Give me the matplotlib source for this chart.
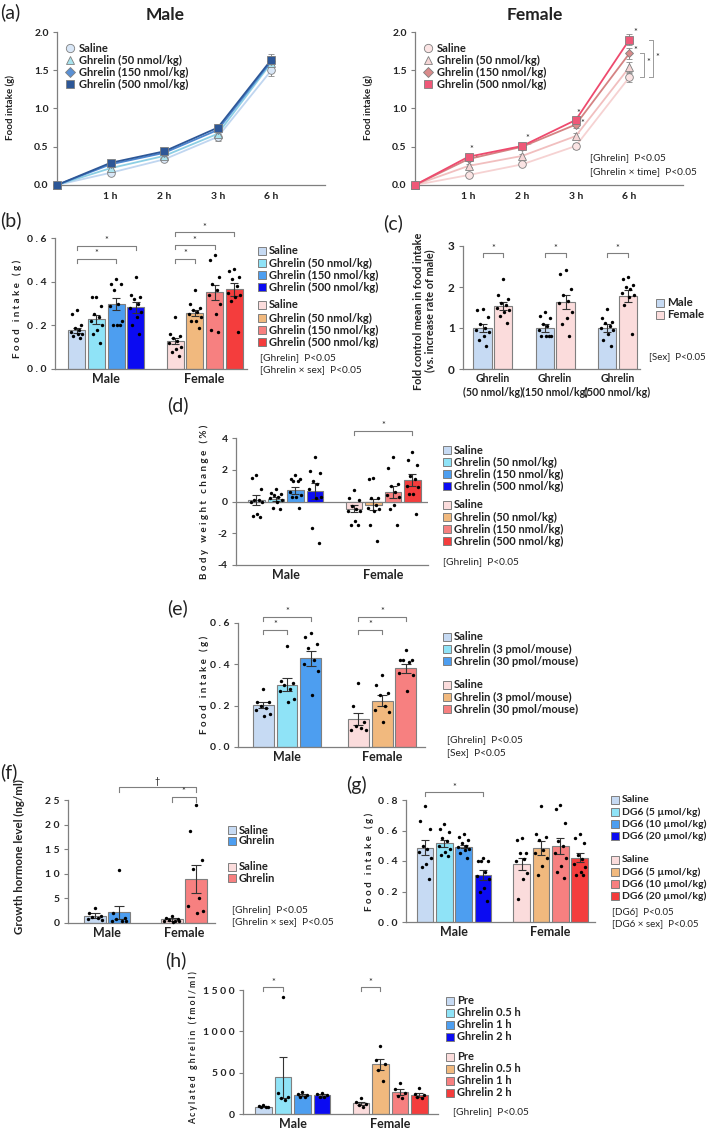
import numpy as np
import matplotlib
matplotlib.use('Agg')
import matplotlib.pyplot as plt
from matplotlib.patches import Rectangle
from matplotlib.lines import Line2D

plt.rcParams['font.family'] = ['Lato', 'DejaVu Sans']

W, H = 709, 1135

# ====================== DATA ======================
# (a) cumulative food intake (g)
a_time_labels = ['1 h', '2 h', '3 h', '6 h']
a_labels = ['Saline', 'Ghrelin (50 nmol/kg)', 'Ghrelin (150 nmol/kg)', 'Ghrelin (500 nmol/kg)']
a_m_saline = [0, 0.16, 0.335, 0.63, 1.50]
a_m_g50 = [0, 0.22, 0.38, 0.67, 1.60]
a_m_g150 = [0, 0.27, 0.42, 0.72, 1.62]
a_m_g500 = [0, 0.29, 0.44, 0.75, 1.64]
a_m_sem = [0, 0.025, 0.025, 0.05, 0.07]
a_f_saline = [0, 0.13, 0.27, 0.51, 1.41]
a_f_g50 = [0, 0.25, 0.38, 0.64, 1.54]
a_f_g150 = [0, 0.34, 0.50, 0.79, 1.72]
a_f_g500 = [0, 0.37, 0.51, 0.85, 1.90]
a_f_sem = [0, 0.02, 0.025, 0.04, 0.07]

# (b) food intake 1 h (g)
b_labels = ['Saline', 'Ghrelin (50 nmol/kg)', 'Ghrelin (150 nmol/kg)', 'Ghrelin (500 nmol/kg)']
b_m_mean = [0.178, 0.228, 0.299, 0.283]
b_m_sem = [0.012, 0.02, 0.027, 0.025]
b_f_mean = [0.129, 0.256, 0.351, 0.366]
b_f_sem = [0.013, 0.015, 0.035, 0.03]
b_m_saline_pts = [0.27, 0.25, 0.20, 0.19, 0.18, 0.17, 0.16, 0.16, 0.15, 0.14]
b_m_g50_pts = [0.33, 0.33, 0.29, 0.25, 0.24, 0.22, 0.20, 0.18, 0.16, 0.12]
b_m_g150_pts = [0.41, 0.39, 0.39, 0.36, 0.30, 0.29, 0.22, 0.20, 0.20, 0.20]
b_m_g500_pts = [0.42, 0.34, 0.33, 0.32, 0.30, 0.28, 0.26, 0.24, 0.20, 0.16]
b_f_saline_pts = [0.24, 0.16, 0.15, 0.14, 0.13, 0.12, 0.10, 0.09, 0.08, 0.06]
b_f_g50_pts = [0.36, 0.30, 0.28, 0.27, 0.26, 0.25, 0.24, 0.22, 0.22, 0.19]
b_f_g150_pts = [0.52, 0.50, 0.42, 0.39, 0.36, 0.34, 0.30, 0.25, 0.18, 0.17]
b_f_g500_pts = [0.46, 0.45, 0.42, 0.41, 0.38, 0.35, 0.34, 0.33, 0.31, 0.17]

# (c) fold change vs male
c_groups = ['Ghrelin\n(50 nmol/kg)', 'Ghrelin\n(150 nmol/kg)', 'Ghrelin\n(500 nmol/kg)']
c_m_mean = [1.0, 1.0, 1.0]
c_m_sem = [0.1, 0.09, 0.09]
c_f_mean = [1.545, 1.63, 1.78]
c_f_sem = [0.1, 0.17, 0.14]
c_m1_pts = [1.47, 1.45, 1.27, 1.10, 1.00, 0.95, 0.90, 0.80, 0.70, 0.55]
c_f1_pts = [2.20, 1.80, 1.70, 1.60, 1.55, 1.50, 1.45, 1.40, 1.30, 1.12]
c_m2_pts = [1.38, 1.30, 1.25, 1.10, 1.05, 0.95, 0.80, 0.80, 0.80, 0.80]
c_f2_pts = [2.42, 2.32, 1.95, 1.80, 1.65, 1.60, 1.40, 1.25, 1.10, 0.80]
c_m3_pts = [1.47, 1.25, 1.15, 1.12, 1.05, 1.00, 0.95, 0.85, 0.70, 0.55]
c_f3_pts = [2.25, 2.20, 2.05, 2.00, 1.95, 1.85, 1.80, 1.75, 1.55, 0.85]

# (d) body weight change (%)
d_m_mean = [0.1, 0.17, 0.72, 0.65]
d_m_sem = [0.3, 0.12, 0.22, 0.5]
d_f_mean = [-0.45, -0.2, 0.6, 1.35]
d_f_sem = [0.2, 0.35, 0.4, 0.4]
d_m_saline_pts = [1.7, 1.5, 0.8, 0.1, 0.1, 0.0, 0.0, -0.8, -0.9, -1.0]
d_m_g50_pts = [0.8, 0.55, 0.5, 0.4, 0.3, 0.2, 0.1, 0.0, -0.4, -0.5]
d_m_g150_pts = [1.7, 1.4, 1.4, 1.3, 1.3, 0.6, 0.4, 0.3, 0.3, -0.4]
d_m_g500_pts = [2.8, 1.9, 1.8, 1.3, 1.1, 0.8, 0.3, 0.2, -1.7, -2.6]
d_f_saline_pts = [0.7, 0.2, 0.1, -0.3, -0.5, -0.6, -0.6, -1.2, -1.5, -1.5]
d_f_g50_pts = [1.5, 1.4, 0.2, 0.2, -0.2, -0.4, -0.5, -0.6, -1.5, -2.5]
d_f_g150_pts = [2.8, 2.1, 1.1, 1.0, 0.6, 0.4, 0.3, -0.2, -0.5, -1.5]
d_f_g500_pts = [3.1, 2.6, 2.3, 1.6, 1.4, 1.0, 0.9, 0.5, 0.5, -0.8]

# (e) icv ghrelin food intake (g)
e_labels = ['Saline', 'Ghrelin (3 pmol/mouse)', 'Ghrelin (30 pmol/mouse)']
e_m_mean = [0.203, 0.302, 0.429]
e_m_sem = [0.015, 0.03, 0.035]
e_f_mean = [0.135, 0.225, 0.38]
e_f_sem = [0.03, 0.025, 0.02]
e_m_saline_pts = [0.28, 0.22, 0.22, 0.20, 0.19, 0.18, 0.16, 0.15]
e_m_g3_pts = [0.49, 0.32, 0.31, 0.30, 0.28, 0.27, 0.23, 0.22]
e_m_g30_pts = [0.55, 0.53, 0.50, 0.48, 0.42, 0.40, 0.37, 0.25]
e_f_saline_pts = [0.31, 0.20, 0.12, 0.10, 0.09, 0.08, 0.08]
e_f_g3_pts = [0.35, 0.30, 0.26, 0.25, 0.20, 0.18, 0.17, 0.12]
e_f_g30_pts = [0.47, 0.42, 0.42, 0.42, 0.41, 0.36, 0.35, 0.27]

# (f) growth hormone (ng/ml)
f_labels = ['Saline', 'Ghrelin']
f_m_mean = [1.5, 2.2]
f_m_sem = [0.5, 1.3]
f_f_mean = [0.8, 8.9]
f_f_sem = [0.3, 2.9]
f_m_saline_pts = [3.0, 2.0, 1.5, 1.2, 1.0, 0.8, 0.7]
f_m_ghrelin_pts = [10.7, 2.0, 1.0, 0.8, 0.5, 0.5, 0.4]
f_f_saline_pts = [1.5, 1.0, 0.8, 0.6, 0.5, 0.5, 0.4, 0.3]
f_f_ghrelin_pts = [24.0, 18.8, 12.9, 11.0, 5.0, 3.5, 2.5, 2.0]

# (g) DG6 food intake (g)
g_labels = ['Saline', 'DG6 (5 µmol/kg)', 'DG6 (10 µmol/kg)', 'DG6 (20 µmol/kg)']
g_m_mean = [0.487, 0.515, 0.495, 0.308]
g_m_sem = [0.05, 0.025, 0.012, 0.03]
g_f_mean = [0.378, 0.485, 0.498, 0.422]
g_f_sem = [0.04, 0.045, 0.055, 0.03]
g_m_saline_pts = [0.76, 0.66, 0.61, 0.50, 0.48, 0.46, 0.42, 0.38, 0.36, 0.28]
g_m_d5_pts = [0.64, 0.61, 0.59, 0.55, 0.53, 0.50, 0.48, 0.46, 0.44, 0.43]
g_m_d10_pts = [0.58, 0.56, 0.54, 0.52, 0.50, 0.49, 0.48, 0.47, 0.45, 0.42]
g_m_d20_pts = [0.42, 0.40, 0.40, 0.40, 0.33, 0.30, 0.28, 0.22, 0.20, 0.14]
g_f_saline_pts = [0.55, 0.54, 0.45, 0.45, 0.41, 0.40, 0.32, 0.28, 0.15]
g_f_d5_pts = [0.76, 0.58, 0.56, 0.54, 0.47, 0.45, 0.42, 0.37, 0.31]
g_f_d10_pts = [0.77, 0.74, 0.65, 0.53, 0.50, 0.45, 0.42, 0.37, 0.33, 0.29]
g_f_d20_pts = [0.58, 0.55, 0.52, 0.44, 0.41, 0.38, 0.36, 0.33, 0.31, 0.31]

# (h) acylated ghrelin (fmol/ml)
h_labels = ['Pre', 'Ghrelin 0.5 h', 'Ghrelin 1 h', 'Ghrelin 2 h']
h_m_mean = [89, 443, 230, 226]
h_m_sem = [8, 250, 15, 15]
h_f_mean = [129, 600, 270, 226]
h_f_sem = [20, 70, 35, 25]
h_m_pre_pts = [110, 95, 85, 80, 80]
h_m_05_pts = [1420, 250, 200, 190, 170]
h_m_1_pts = [270, 240, 230, 210, 200]
h_m_2_pts = [260, 240, 230, 210, 200]
h_f_pre_pts = [190, 150, 120, 110, 90]
h_f_05_pts = [820, 650, 600, 530, 400]
h_f_1_pts = [370, 300, 260, 220, 190]
h_f_2_pts = [320, 240, 230, 200, 190]

# ====================== STYLE ======================
M_COL = ['#c6daf3', '#8fe3f7', '#4d9ef0', '#0b0bf2']
F_COL = ['#fbdcdc', '#f1b97e', '#f78080', '#f43d3d']
EDGE = '#7f7f7f'
TXT = '#222222'
JIT = np.array([0.0, -0.28, 0.28, -0.12, 0.14, -0.34, 0.34, 0.06, -0.2, 0.22])
LEG_FS = 8
STAT_FS = 7.3
GRP_FS = 9
PANEL_FS = 14

fig = plt.figure(figsize=(W / 100, H / 100), dpi=100)


def sp(s):
    return ' '.join(s)


def add_ax(l, t, r, b):
    return fig.add_axes([l / W, 1 - b / H, (r - l) / W, (b - t) / H])


def ftext(x, y, s, **kw):
    kw.setdefault('color', TXT)
    return fig.text(x / W, 1 - y / H, s, **kw)


def fig_square(x, y, color, s=8):
    fig.add_artist(Rectangle((x / W, 1 - (y + s / 2) / H), s / W, s / H,
                             transform=fig.transFigure, fc=color, ec=EDGE, lw=0.7))


def square_legend(x, rows, colors, labels, s=8, fs=LEG_FS):
    for y, c, l in zip(rows, colors, labels):
        fig_square(x, y, c, s)
        ftext(x + s + 3, y, l, fontsize=fs, fontweight='bold', va='center', ha='left')


def style(ax, xlim, ylim, yticks, ylabels, fs=7.5):
    ax.set_xlim(xlim)
    ax.set_ylim(ylim)
    ax.set_yticks(yticks)
    ax.set_yticklabels(ylabels, fontsize=fs, fontweight='bold', color=TXT)
    for s in ['top', 'right']:
        ax.spines[s].set_visible(False)
    for s in ['left', 'bottom']:
        ax.spines[s].set_color(EDGE)
        ax.spines[s].set_linewidth(0.9)
    ax.tick_params(axis='y', length=3, width=0.8, color=EDGE, pad=3)
    ax.tick_params(axis='x', length=0, pad=3)
    ax.patch.set_alpha(0)


def bars(ax, pos, means, sems, colors, pts_list, width=0.86, cap=2.8):
    ax.bar(pos, means, width=width, color=colors, edgecolor=EDGE, linewidth=0.8, zorder=2)
    for p, pts in zip(pos, pts_list):
        offs = JIT[:len(pts)] * width
        ax.scatter(np.asarray(p) + offs, pts, s=6, c='k', zorder=4, linewidths=0, clip_on=False)
    ax.errorbar(pos, means, yerr=sems, fmt='none', ecolor='#333333', elinewidth=0.8,
                capsize=cap, capthick=0.8, zorder=3)


def bracket(ax, x1, x2, y, h, label='*', fs=6.5):
    ax.plot([x1, x1, x2, x2], [y - h, y, y, y - h], color=EDGE, lw=0.8, clip_on=False)
    ax.text((x1 + x2) / 2, y + h * 0.2, label, ha='center', va='bottom', fontsize=fs,
            color=TXT, clip_on=False)


def group_labels(ax, centers, labels, fs=GRP_FS):
    ax.set_xticks(centers)
    ax.set_xticklabels(labels, fontsize=fs, fontweight='bold', color=TXT)


def sp_ticks(vals):
    return [sp(v) for v in vals]


# ====================== (a) ======================
xs = np.arange(5)
a_specs_m = [
    (a_m_saline, 'o', '#d9e7f7', '#c0d6f0'),
    (a_m_g50, '^', '#a8e3ee', '#8ccfe4'),
    (a_m_g150, 'D', '#5a90d4', '#4c86cf'),
    (a_m_g500, 's', '#2d5797', '#2d5797'),
]
a_specs_f = [
    (a_f_saline, 'o', '#fbe4e4', '#f6d2d2'),
    (a_f_g50, '^', '#f6d6d6', '#f1bfbf'),
    (a_f_g150, 'D', '#d98b8b', '#d48383'),
    (a_f_g500, 's', '#ef5878', '#ee4a6e'),
]

for (l, r, specs, sem, title, tx) in [(57, 325, a_specs_m, a_m_sem, 'Male', 165),
                                        (415, 683, a_specs_f, a_f_sem, 'Female', 535)]:
    ax = add_ax(l, 32, r, 185)
    style(ax, (0, 5), (0, 2.0), [0, 0.5, 1.0, 1.5, 2.0], ['0.0', '0.5', '1.0', '1.5', '2.0'])
    ax.set_xticks([1, 2, 3, 4])
    ax.set_xticklabels(a_time_labels, fontsize=7.5, fontweight='bold', color=TXT)
    ax.tick_params(axis='x', pad=5)
    for (ys, mk, face, lc) in specs:
        ax.errorbar(xs, ys, yerr=sem, color=lc, lw=1.3, marker=mk,
                    ms=5.5 if mk != 'D' else 4.5, mfc=face, mec=EDGE, mew=0.6,
                    ecolor='#8a8a8a', elinewidth=0.7, capsize=2, zorder=3, clip_on=False)
    ftext(tx, 15, title, fontsize=12.5, fontweight='bold', ha='center', va='center')
    ftext(l - 47, 108, 'Food intake (g)', fontsize=7, fontweight='bold',
          rotation=90, ha='center', va='center')
    lx = l + 13
    for i, (ys, mk, face, lc) in enumerate(specs):
        yy = 48 + 12 * i
        fig.add_artist(Line2D([lx / W], [1 - yy / H], marker=mk, ms=6 if mk != 'D' else 5,
                              mfc=face, mec=EDGE, mew=0.6, ls='none', transform=fig.transFigure))
        ftext(lx + 9, yy, a_labels[i], fontsize=LEG_FS, fontweight='bold', va='center', ha='left')
    if title == 'Female':
        axf = ax

for (x, y) in [(1.06, 0.46), (1.14, 0.33), (2.1, 0.61), (2.14, 0.50), (3.04, 0.94),
               (3.13, 0.81), (4.12, 1.99), (4.12, 1.76)]:
    axf.text(x, y, '*', fontsize=6.5, ha='center', va='center', color=TXT, clip_on=False)
for xb, ytop in [(4.27, 1.72), (4.44, 1.90)]:
    axf.plot([xb - 0.07, xb, xb, xb - 0.07], [ytop, ytop, 1.41, 1.41], color='#9a9a9a', lw=0.7,
             clip_on=False)
axf.text(4.35, 1.60, '*', fontsize=6.5, ha='center', va='center', color=TXT, clip_on=False)
axf.text(4.53, 1.67, '*', fontsize=6.5, ha='center', va='center', color=TXT, clip_on=False)
ftext(590, 158, '[Ghrelin]  P<0.05', fontsize=STAT_FS, va='center')
ftext(590, 172, '[Ghrelin × time]  P<0.05', fontsize=STAT_FS, va='center')
ftext(0, 12, '(a)', fontsize=PANEL_FS, va='center', ha='left')

# ====================== (b) ======================
ax = add_ax(55, 238, 247, 369)
style(ax, (-1.1, 8.65), (0, 0.6), [0, 0.2, 0.4, 0.6], sp_ticks(['0.0', '0.2', '0.4', '0.6']))
bars(ax, [0, 1, 2, 3], b_m_mean, b_m_sem, M_COL,
     [b_m_saline_pts, b_m_g50_pts, b_m_g150_pts, b_m_g500_pts])
bars(ax, [5, 6, 7, 8], b_f_mean, b_f_sem, F_COL,
     [b_f_saline_pts, b_f_g50_pts, b_f_g150_pts, b_f_g500_pts])
group_labels(ax, [1.5, 6.5], ['Male', 'Female'])
bracket(ax, 0, 2, 0.505, 0.018)
bracket(ax, 0, 3, 0.565, 0.018)
bracket(ax, 5, 6, 0.505, 0.018)
bracket(ax, 5, 7, 0.566, 0.018)
bracket(ax, 5, 8, 0.626, 0.018)
ftext(17, 309, sp('Food intake (g)'), fontsize=7, fontweight='bold', rotation=90,
      ha='center', va='center')
square_legend(258, [251, 263, 275, 287], M_COL, b_labels)
square_legend(258, [305, 318, 330, 342], F_COL, b_labels)
ftext(260, 358, '[Ghrelin]  P<0.05', fontsize=STAT_FS, va='center')
ftext(260, 370, '[Ghrelin × sex]  P<0.05', fontsize=STAT_FS, va='center')
ftext(0, 220, '(b)', fontsize=PANEL_FS, va='center', ha='left')

# ====================== (c) ======================
ax = add_ax(463, 246, 640, 369)
style(ax, (-0.94, 7.59), (0, 3), [0, 1, 2, 3], ['0', '1', '2', '3'], fs=8.5)
bars(ax, [0, 3, 6], c_m_mean, c_m_sem, [M_COL[0]] * 3, [c_m1_pts, c_m2_pts, c_m3_pts], width=0.87)
bars(ax, [1, 4, 7], c_f_mean, c_f_sem, [F_COL[0]] * 3, [c_f1_pts, c_f2_pts, c_f3_pts], width=0.87)
group_labels(ax, [0.5, 3.5, 6.5], c_groups, fs=7.6)
for t in ax.get_xticklabels():
    t.set_linespacing(1.3)
for g in [0, 3, 6]:
    bracket(ax, g, g + 1, 2.82, 0.09)
ftext(418, 311, 'Fold control mean in food intake', fontsize=7.8, fontweight='bold',
      rotation=90, ha='center', va='center')
ftext(430, 311, '(vs. increase rate of male)', fontsize=7.8, fontweight='bold',
      rotation=90, ha='center', va='center')
square_legend(656, [303, 315], [M_COL[0], F_COL[0]], ['Male', 'Female'], s=8, fs=8.3)
ftext(649, 357, '[Sex]  P<0.05', fontsize=7, va='center')
ftext(383, 223, '(c)', fontsize=PANEL_FS, va='center', ha='left')

# ====================== (d) ======================
ax = add_ax(236, 438, 428, 565)
style(ax, (-1.05, 8.8), (-4, 4), [-4, -2, 0, 2, 4], ['-4', '-2', '0', '2', '4'])
ax.axhline(0, color=EDGE, lw=0.9, zorder=1)
bars(ax, [0, 1, 2, 3], d_m_mean, d_m_sem, M_COL,
     [d_m_saline_pts, d_m_g50_pts, d_m_g150_pts, d_m_g500_pts])
bars(ax, [5, 6, 7, 8], d_f_mean, d_f_sem, F_COL,
     [d_f_saline_pts, d_f_g50_pts, d_f_g150_pts, d_f_g500_pts])
group_labels(ax, [1.5, 6.5], ['Male', 'Female'])
bracket(ax, 5, 8, 4.44, 0.22)
ftext(204, 502, sp('Body weight change (%)'), fontsize=7, fontweight='bold', rotation=90,
      ha='center', va='center')
square_legend(443, [450, 462, 474, 486], M_COL, b_labels)
square_legend(443, [505, 517, 529, 541], F_COL, b_labels)
ftext(443, 562, '[Ghrelin]  P<0.05', fontsize=STAT_FS, va='center')
ftext(167, 405, '(d)', fontsize=PANEL_FS, va='center', ha='left')

# ====================== (e) ======================
ax = add_ax(238, 623, 425, 747)
style(ax, (-1.06, 6.8), (0, 0.6), [0, 0.2, 0.4, 0.6], sp_ticks(['0.0', '0.2', '0.4', '0.6']))
bars(ax, [0, 1, 2], e_m_mean, e_m_sem, M_COL[:3], [e_m_saline_pts, e_m_g3_pts, e_m_g30_pts],
     width=0.88, cap=3.5)
bars(ax, [4, 5, 6], e_f_mean, e_f_sem, [F_COL[0], F_COL[1], F_COL[2]],
     [e_f_saline_pts, e_f_g3_pts, e_f_g30_pts], width=0.88, cap=3.5)
group_labels(ax, [1, 5], ['Male', 'Female'])
bracket(ax, 0, 1, 0.565, 0.018)
bracket(ax, 0, 2, 0.628, 0.018)
bracket(ax, 4, 5, 0.565, 0.018)
bracket(ax, 4, 6, 0.628, 0.018)
ftext(204, 685, sp('Food intake (g)'), fontsize=7, fontweight='bold', rotation=90,
      ha='center', va='center')
square_legend(443, [637, 649, 661], M_COL[:3], e_labels)
square_legend(443, [685, 697, 709], F_COL[:3], e_labels)
ftext(447, 740, '[Ghrelin]  P<0.05', fontsize=STAT_FS, va='center')
ftext(447, 753, '[Sex]  P<0.05', fontsize=STAT_FS, va='center')
ftext(167, 608, '(e)', fontsize=PANEL_FS, va='center', ha='left')

# ====================== (f) ======================
f_pos_m = [0, 1]
f_pos_f = [3.2, 4.2]
ax = add_ax(68, 800, 215, 923)
style(ax, (-1.12, 5.0), (0, 25), [0, 5, 10, 15, 20, 25],
      sp_ticks(['0', '5', '10', '15', '20', '25']))
bars(ax, f_pos_m, f_m_mean, f_m_sem, [M_COL[0], M_COL[2]], [f_m_saline_pts, f_m_ghrelin_pts],
     width=0.9, cap=3.5)
bars(ax, f_pos_f, f_f_mean, f_f_sem, [F_COL[0], F_COL[2]], [f_f_saline_pts, f_f_ghrelin_pts],
     width=0.9, cap=3.5)
group_labels(ax, [0.5, 3.7], ['Male', 'Female'])
bracket(ax, 1, 4.2, 27.6, 1.0, label='†')
bracket(ax, 3.2, 4.2, 25.6, 1.0)
ftext(19, 857, 'Growth hormone level (ng/ml)', fontsize=8.3, fontweight='bold', rotation=90,
      ha='center', va='center')
square_legend(228, [830, 841], [M_COL[0], M_COL[2]], f_labels)
square_legend(228, [867, 878], [F_COL[0], F_COL[2]], f_labels)
ftext(232, 910, '[Ghrelin]  P<0.05', fontsize=STAT_FS, va='center')
ftext(232, 922, '[Ghrelin × sex]  P<0.05', fontsize=STAT_FS, va='center')
ftext(0, 772, '(f)', fontsize=PANEL_FS, va='center', ha='left')

# ====================== (g) ======================
ax = add_ax(406, 800, 595, 922)
style(ax, (-0.99, 8.8), (0, 0.8), [0, 0.2, 0.4, 0.6, 0.8],
      sp_ticks(['0.0', '0.2', '0.4', '0.6', '0.8']))
bars(ax, [0, 1, 2, 3], g_m_mean, g_m_sem, M_COL,
     [g_m_saline_pts, g_m_d5_pts, g_m_d10_pts, g_m_d20_pts])
bars(ax, [5, 6, 7, 8], g_f_mean, g_f_sem, F_COL,
     [g_f_saline_pts, g_f_d5_pts, g_f_d10_pts, g_f_d20_pts])
group_labels(ax, [1.5, 6.5], ['Male', 'Female'])
bracket(ax, 0, 3, 0.85, 0.025)
ftext(369, 862, sp('Food intake (g)'), fontsize=7, fontweight='bold', rotation=90,
      ha='center', va='center')
square_legend(611, [800, 812, 824, 836], M_COL, g_labels, fs=7.5)
square_legend(611, [860, 872, 884, 896], F_COL, g_labels, fs=7.5)
ftext(612, 912, '[DG6]  P<0.05', fontsize=7, va='center')
ftext(612, 924, '[DG6 × sex]  P<0.05', fontsize=7, va='center')
ftext(346, 785, '(g)', fontsize=PANEL_FS, va='center', ha='left')

# ====================== (h) ======================
ax = add_ax(243, 990, 438, 1114)
style(ax, (-1.05, 8.95), (0, 1500), [0, 500, 1000, 1500],
      sp_ticks(['0', '500', '1000', '1500']))
bars(ax, [0, 1, 2, 3], h_m_mean, h_m_sem, M_COL, [h_m_pre_pts, h_m_05_pts, h_m_1_pts, h_m_2_pts])
bars(ax, [5, 6, 7, 8], h_f_mean, h_f_sem, F_COL, [h_f_pre_pts, h_f_05_pts, h_f_1_pts, h_f_2_pts])
group_labels(ax, [1.5, 6.5], ['Male', 'Female'])
bracket(ax, 0, 1, 1532, 45)
bracket(ax, 5, 6, 1532, 45)
ftext(193, 1048, sp('Acylated ghrelin (fmol/ml)'), fontsize=6.2, fontweight='bold', rotation=90,
      ha='center', va='center')
square_legend(446, [1001, 1013, 1025, 1037], M_COL, h_labels)
square_legend(446, [1057, 1069, 1081, 1093], F_COL, h_labels)
ftext(453, 1112, '[Ghrelin]  P<0.05', fontsize=STAT_FS, va='center')
ftext(165, 960, '(h)', fontsize=PANEL_FS, va='center', ha='left')

fig.savefig('out.png', dpi=100)
